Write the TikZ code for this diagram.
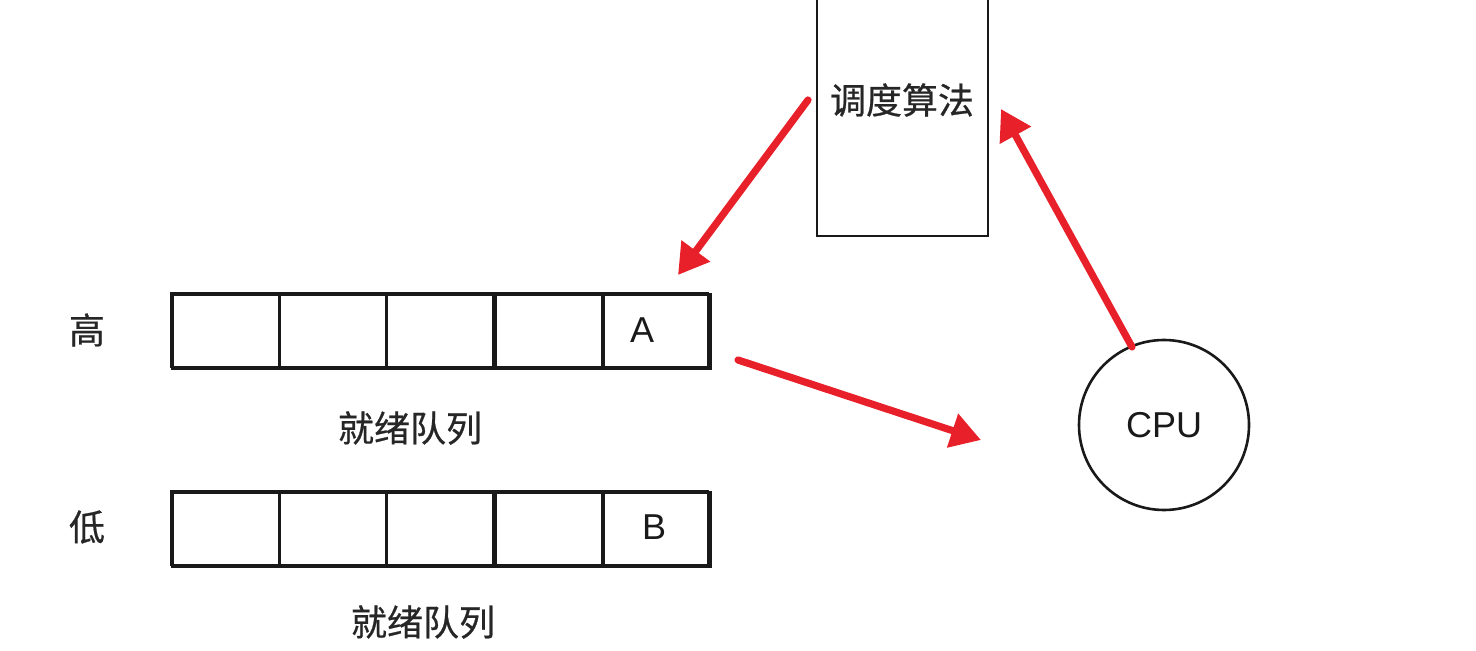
\documentclass[tikz,border=0pt]{standalone}
\usepackage{fontspec}
\setmainfont{Liberation Sans}
\newfontfamily\cjk[FakeBold=0.6]{Noto Sans CJK SC}
\usetikzlibrary{arrows.meta}
\definecolor{arrred}{HTML}{E8202A}
\tikzset{
  box/.style={draw=black!90, line width=1.3pt, minimum width=53.5pt, minimum height=37pt, inner sep=0pt, anchor=north west},
  cn/.style={font=\cjk\fontsize{18}{21}\selectfont, text=black!85},
  lat/.style={font=\fontsize{18}{21}\selectfont, text=black!90},
  redarrow/.style={draw=arrred, line width=3.6pt, line cap=round, -{Triangle[length=15pt,width=17pt]}}
}
\begin{document}
\begin{tikzpicture}[x=0.5pt,y=-0.5pt]
\useasboundingbox (0,0) rectangle (1476,651);
\begin{scope}
\clip (0,0) rectangle (1476,651);
\draw[draw=black!90, line width=1.3pt] (817,-20) rectangle (988,236);
\end{scope}
\node[cn] (alg) at (902,100) {调度算法};
% queues
\foreach \i/\x in {1/171,2/278,3/385,4/494,5/602}{
  \node[box] (h\i) at (\x,293) {};
  \node[box] (l\i) at (\x,491) {};
}
\draw[draw=black!90, line width=1.3pt] (171,293) rectangle (708,367);
\draw[draw=black!90, line width=1.3pt] (171,491) rectangle (708,565);
\node[lat] (A) at (642,330) {A};
\node[lat] (B) at (654,527) {B};
\node[cn] (hi) at (87,330) {高};
\node[cn] (lo) at (87,527) {低};
\node[cn] (q1) at (410,428) {就绪队列};
\node[cn] (q2) at (423,622) {就绪队列};
\node[circle, draw=black!90, line width=1.3pt, minimum size=85pt, inner sep=0pt, lat] (cpu) at (1164,425) {CPU};
\coordinate (a1s) at (808,100);
\coordinate (a1e) at (678,275);
\coordinate (a2s) at (738,360);
\coordinate (a2e) at (981,440);
\coordinate (a3s) at (1132,347);
\coordinate (a3e) at (1001,109);
\draw[redarrow] (a1s) -- (a1e);
\draw[redarrow] (a2s) -- (a2e);
\draw[redarrow] (a3s) -- (a3e);
\end{tikzpicture}
\end{document}
